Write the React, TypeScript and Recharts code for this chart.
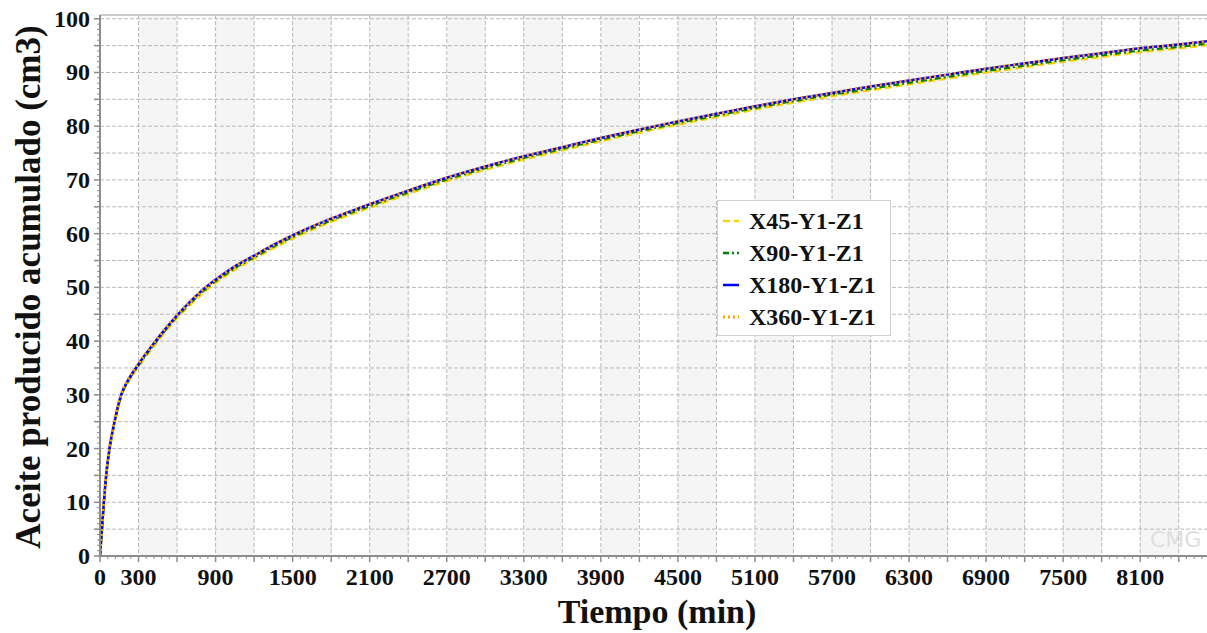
import { LineChart, Line, XAxis, YAxis, CartesianGrid, Legend, ReferenceLine } from 'recharts';

// tiempo (min) y aceite acumulado (cm3)
const time = [0, 15, 30, 48, 74, 113, 165, 220, 282, 350, 420, 500, 600, 700, 822, 950, 1050, 1200, 1350, 1528, 1800, 2047, 2400, 2700, 3000, 3300, 3600, 3900, 4200, 4500, 4800, 5100, 5400, 5700, 6000, 6300, 6600, 6900, 7200, 7500, 7800, 8100, 8400, 8620];
const x45 = [0, 4.8, 9.8, 14.8, 19.7, 24.7, 29.7, 32.4, 34.7, 36.9, 39.1, 41.5, 44.3, 46.7, 49.4, 51.7, 53.3, 55.3, 57.3, 59.4, 62.2, 64.4, 67.4, 69.8, 71.9, 73.8, 75.5, 77.2, 78.8, 80.3, 81.7, 83.1, 84.4, 85.6, 86.7, 87.8, 88.9, 90.0, 91.0, 92.0, 92.9, 93.8, 94.5, 95.1];
const x90 = [0, 4.9, 9.9, 14.9, 19.9, 24.9, 29.9, 32.6, 34.9, 37.2, 39.4, 41.8, 44.6, 47.0, 49.7, 52.0, 53.6, 55.6, 57.6, 59.7, 62.5, 64.7, 67.7, 70.1, 72.2, 74.1, 75.8, 77.5, 79.1, 80.6, 82.0, 83.4, 84.7, 85.9, 87.0, 88.1, 89.2, 90.3, 91.3, 92.3, 93.2, 94.1, 94.8, 95.4];
const x180 = [0, 5, 10, 15, 20, 25, 30, 32.8, 35.1, 37.4, 39.6, 42.0, 44.8, 47.3, 50.0, 52.3, 53.9, 55.9, 57.9, 60.0, 62.8, 65.0, 68.0, 70.4, 72.5, 74.4, 76.1, 77.8, 79.4, 80.9, 82.3, 83.7, 85.0, 86.2, 87.4, 88.5, 89.6, 90.7, 91.7, 92.7, 93.6, 94.5, 95.2, 95.8];
const x360 = [0, 5.2, 10.2, 15.2, 20.2, 25.2, 30.1, 32.9, 35.2, 37.5, 39.7, 42.1, 44.8, 47.3, 50.0, 52.3, 53.9, 55.9, 57.9, 60.0, 62.8, 65.0, 68.0, 70.4, 72.5, 74.4, 76.1, 77.8, 79.4, 80.9, 82.3, 83.7, 85.0, 86.2, 87.4, 88.5, 89.6, 90.7, 91.7, 92.7, 93.6, 94.5, 95.2, 95.8];

const names = ['X45-Y1-Z1', 'X90-Y1-Z1', 'X180-Y1-Z1', 'X360-Y1-Z1'];
const values = [x45, x90, x180, x360];
const colors = ['#ffd000', '#008000', '#0000ff', '#ffa500'];
const dashes = ['7 4', '6 3 2 3', '', '2 3'];
const widths = [2.5, 2.5, 2.5, 3];

const xLabelTicks = [0, 300, 900, 1500, 2100, 2700, 3300, 3900, 4500, 5100, 5700, 6300, 6900, 7500, 8100];
const yLabelTicks = [0, 10, 20, 30, 40, 50, 60, 70, 80, 90, 100];

const X_MAX = 8620;
const Y_MAX = 100.7;
const xMinor = Array.from({ length: Math.floor(X_MAX / 60) + 1 }, (_, i) => i * 60);
const xGrid = xMinor.filter((v) => v % 300 === 0);
const yMinor = Array.from({ length: 101 }, (_, i) => i);
const yGrid = yMinor.filter((v) => v % 5 === 0);

const data = time.map((t, i) => {
  const row: any = { t };
  names.forEach((n, k) => (row[n] = values[k][i]));
  return row;
});

const FONT = "'Liberation Serif', 'Times New Roman', serif";
const AXIS = '#8c8c8c';

const XTick = (props: any) => {
  const { x, y, payload } = props;
  const v = payload.value;
  const major = v % 300 === 0;
  return (
    <g>
      <line x1={x} x2={x} y1={y} y2={y + (major ? 6 : 3)} stroke={AXIS} strokeWidth={major ? 1.5 : 1} />
      {xLabelTicks.includes(v) && (
        <text x={x} y={y + 29} textAnchor="middle" fontFamily={FONT} fontWeight="bold" fontSize={24} fill="#111">
          {v}
        </text>
      )}
    </g>
  );
};

const YTick = (props: any) => {
  const { x, y, payload } = props;
  const v = payload.value;
  const len = v % 5 === 0 ? 6 : 3;
  return (
    <g>
      <line x1={x - len} x2={x} y1={y} y2={y} stroke={AXIS} strokeWidth={v % 5 === 0 ? 1.5 : 1} />
      {yLabelTicks.includes(v) && (
        <text x={x - 10} y={y} dy={8} textAnchor="end" fontFamily={FONT} fontWeight="bold" fontSize={24} fill="#111">
          {v}
        </text>
      )}
    </g>
  );
};

// leyenda en el orden de las series
const LegendBox = () => (
  <div style={{ border: '1px solid #cfcfcf', background: '#fff', padding: '4px 14px 2px 3px' }}>
    {names.map((n, k) => (
      <div key={n} style={{ display: 'flex', alignItems: 'center', height: 32 }}>
        <svg width={22} height={10} style={{ marginRight: 6 }}>
          <line x1={2} x2={18} y1={5} y2={5} stroke={colors[k]} strokeWidth={widths[k]} strokeDasharray={dashes[k] || undefined} />
        </svg>
        <span style={{ fontFamily: FONT, fontWeight: 'bold', fontSize: 24, color: '#111', lineHeight: 1 }}>{n}</span>
      </div>
    ))}
  </div>
);

export default function App() {
  return (
    <div style={{ position: 'absolute', left: 0, top: 0, width: 1207, height: 633, background: '#fff' }}>
      <LineChart width={1207} height={633} data={data} margin={{ top: 15, right: 0, bottom: 0, left: 0 }}>
        <CartesianGrid
          stroke="#b8b8b8"
          strokeDasharray="4 2"
          horizontalValues={yGrid}
          verticalValues={xGrid}
          verticalFill={['#ffffff', '#f5f5f5']}
        />
        <XAxis
          dataKey="t"
          type="number"
          domain={[0, X_MAX]}
          ticks={xMinor}
          interval={0}
          height={77}
          tickSize={0}
          tickMargin={0}
          tick={XTick}
          axisLine={{ stroke: AXIS, strokeWidth: 2 }}
          tickLine={false}
          allowDataOverflow
        />
        <YAxis
          type="number"
          domain={[0, Y_MAX]}
          ticks={yMinor}
          interval={0}
          width={100}
          tickSize={0}
          tickMargin={0}
          tick={YTick}
          axisLine={{ stroke: AXIS, strokeWidth: 2 }}
          tickLine={false}
          allowDataOverflow
        />
        <ReferenceLine y={Y_MAX} stroke="#cccccc" strokeWidth={2} />
        <Legend
          layout="vertical"
          align="center"
          verticalAlign="middle"
          content={LegendBox}
          wrapperStyle={{ left: 717, top: 200, width: 'auto' }}
        />
        {names.map((n, k) => (
          <Line
            key={n}
            dataKey={n}
            name={n}
            type="monotone"
            stroke={colors[k]}
            strokeWidth={widths[k]}
            strokeDasharray={dashes[k] || undefined}
            dot={false}
            isAnimationActive={false}
          />
        ))}
        <text x={1150} y={547} fontFamily="'DejaVu Sans', sans-serif" fontSize={22} fill="#dedede">CMG</text>
      </LineChart>
      <div
        style={{
          position: 'absolute',
          left: 28,
          top: 287,
          transform: 'translate(-50%, -50%) rotate(-90deg)',
          whiteSpace: 'nowrap',
          fontFamily: FONT,
          fontWeight: 'bold',
          fontSize: 35,
          lineHeight: 1,
          color: '#111',
        }}
      >
        Aceite producido acumulado (cm3)
      </div>
      <div
        style={{
          position: 'absolute',
          left: 657,
          top: 612,
          transform: 'translate(-50%, -50%)',
          whiteSpace: 'nowrap',
          fontFamily: FONT,
          fontWeight: 'bold',
          fontSize: 34,
          lineHeight: 1,
          color: '#111',
        }}
      >
        Tiempo (min)
      </div>
    </div>
  );
}
